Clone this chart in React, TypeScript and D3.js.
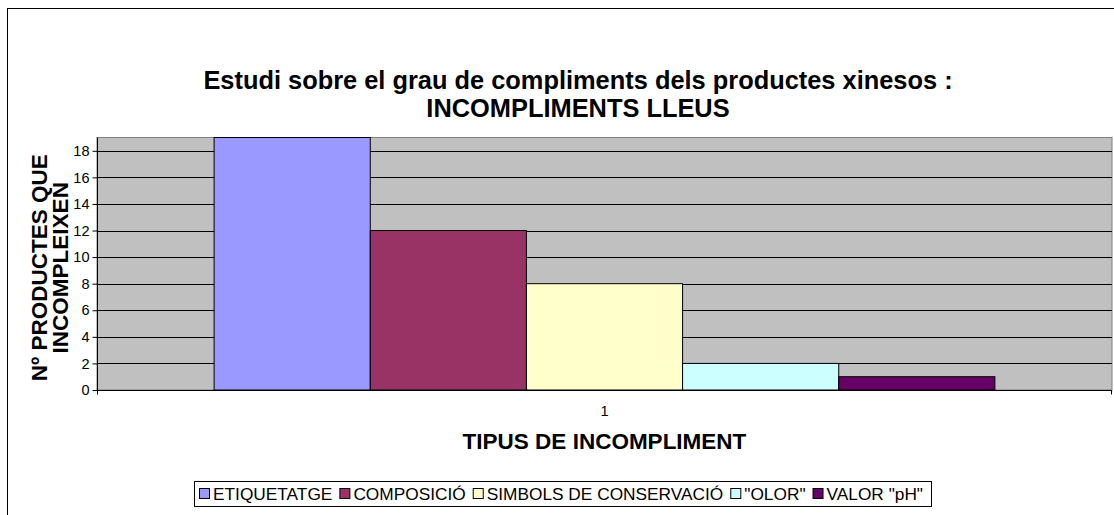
import React, { useEffect, useRef } from "react";
import * as d3 from "d3";

const categories = ["1"];
const seriesNames = ["ETIQUETATGE", "COMPOSICIÓ", "SIMBOLS DE CONSERVACIÓ", "\"OLOR\"", "VALOR \"pH\""];
const seriesValues = [19, 12, 8, 2, 1];
const seriesColors = ["#9999FF", "#993366", "#FFFFCC", "#CCFFFF", "#660066"];
const yTicks = [0, 2, 4, 6, 8, 10, 12, 14, 16, 18];
const titleLines = ["Estudi sobre el grau de compliments dels productes xinesos :", "INCOMPLIMENTS LLEUS"];
const yTitleLines = ["Nº PRODUCTES QUE", "INCOMPLEIXEN"];
const xTitle = "TIPUS DE INCOMPLIMENT";

const FONT = "'Liberation Sans', Arial, sans-serif";

function App() {
  const ref = useRef<SVGSVGElement>(null);

  useEffect(() => {
    const svg = d3.select(ref.current);
    svg.selectAll("*").remove();

    const plot = { left: 97, right: 1112, top: 137.5, bottom: 390 };

    // chart frame
    svg.append("rect")
      .attr("x", 7.5).attr("y", 8.5)
      .attr("width", 1200).attr("height", 600)
      .attr("fill", "white").attr("stroke", "black");

    // title
    svg.append("g").selectAll("text")
      .data(titleLines)
      .enter()
      .append("text")
      .text((d) => d)
      .attr("x", 578)
      .attr("y", (d, i) => 89 + i * 28)
      .attr("text-anchor", "middle")
      .attr("font-family", FONT)
      .attr("font-weight", "bold")
      .attr("font-size", 25.4);

    const y = d3.scaleLinear().domain([0, 19]).range([plot.bottom, plot.top]);
    const x0 = d3.scaleBand().domain(categories).range([plot.left, plot.right]).paddingInner(0).paddingOuter(0.15);
    const x1 = d3.scaleBand().domain(seriesNames).range([0, x0.bandwidth()]).padding(0);

    // plot area
    svg.append("rect")
      .attr("x", plot.left).attr("y", plot.top)
      .attr("width", plot.right - plot.left).attr("height", plot.bottom - plot.top)
      .attr("fill", "#C0C0C0").attr("stroke", "#808080");

    // gridlines
    svg.append("g").selectAll("line")
      .data(yTicks.filter((t) => t > 0))
      .enter()
      .append("line")
      .attr("x1", plot.left).attr("x2", plot.right)
      .attr("y1", (d) => Math.round(y(d)) + 0.5).attr("y2", (d) => Math.round(y(d)) + 0.5)
      .attr("stroke", "black");

    // bars
    categories.forEach((c) => {
      svg.append("g").selectAll("rect")
        .data(seriesValues)
        .enter()
        .append("rect")
        .attr("x", (d, i) => (x0(c) as number) + (x1(seriesNames[i]) as number))
        .attr("y", (d) => y(d))
        .attr("width", x1.bandwidth())
        .attr("height", (d) => plot.bottom - y(d))
        .attr("fill", (d, i) => seriesColors[i])
        .attr("stroke", "black");
    });

    // y axis
    const yAxis = svg.append("g").attr("transform", `translate(${plot.left + 0.5},0)`)
      .call(d3.axisLeft(y).tickValues(yTicks).tickSize(5).tickSizeOuter(0).tickPadding(3));
    yAxis.select(".domain").attr("stroke", "black").attr("d", `M0,${plot.top}V${plot.bottom + 4}`);
    yAxis.selectAll("text").attr("font-family", FONT).attr("font-size", 14.5).attr("fill", "black");

    // x axis
    const xAxis = svg.append("g").attr("transform", `translate(0,${Math.round(plot.bottom) + 0.5})`)
      .call(d3.axisBottom(x0).tickSize(0).tickPadding(15));
    xAxis.select(".domain").attr("stroke", "black").attr("d", `M${plot.left},0H${plot.right}`);
    xAxis.selectAll("text").attr("font-family", FONT).attr("font-size", 14.5).attr("fill", "black");
    xAxis.selectAll(".edge").data([plot.left + 0.5, plot.right - 0.5]).enter()
      .append("line").attr("class", "edge")
      .attr("x1", (d) => d).attr("x2", (d) => d).attr("y1", 0).attr("y2", 4)
      .attr("stroke", "black");

    // axis titles
    svg.append("text")
      .text(xTitle)
      .attr("x", (plot.left + plot.right) / 2)
      .attr("y", 449)
      .attr("text-anchor", "middle")
      .attr("font-family", FONT).attr("font-weight", "bold").attr("font-size", 22.5);

    svg.append("g")
      .attr("transform", `translate(0,${(plot.top + plot.bottom) / 2 + 4}) rotate(-90)`)
      .selectAll("text")
      .data(yTitleLines)
      .enter()
      .append("text")
      .text((d) => d)
      .attr("x", 0)
      .attr("y", (d, i) => 47 + i * 21)
      .attr("text-anchor", "middle")
      .attr("font-family", FONT).attr("font-weight", "bold").attr("font-size", 22.5);

    // legend
    const legend = svg.append("g");
    const box = legend.append("rect").attr("fill", "white").attr("stroke", "black");
    let cx = 199;
    const ly = 494;
    seriesNames.forEach((name, i) => {
      legend.append("rect")
        .attr("x", cx + 0.5).attr("y", ly - 5.5)
        .attr("width", 10).attr("height", 10)
        .attr("fill", seriesColors[i]).attr("stroke", "black");
      const t = legend.append("text")
        .text(name)
        .attr("x", cx + 14).attr("y", ly + 6)
        .attr("font-family", FONT).attr("font-size", 17.3);
      const w = (t.node() as SVGTextElement).getComputedTextLength();
      cx += 14 + w + 7;
    });
    box.attr("x", 194.5).attr("y", 481.5).attr("width", cx - 194 + 1).attr("height", 25);
  }, []);

  return (
    <svg
      ref={ref}
      width={1114}
      height={515}
      style={{ position: "absolute", left: 0, top: 0, background: "white" }}
    />
  );
}

export default App;
